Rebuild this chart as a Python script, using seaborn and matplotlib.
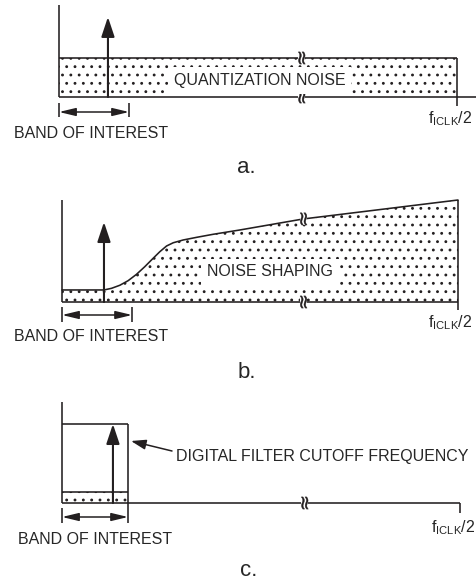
import numpy as np
import matplotlib
matplotlib.use("Agg")
import matplotlib.pyplot as plt
import seaborn as sns
from matplotlib.textpath import TextPath
from matplotlib.patches import PathPatch, Rectangle
from matplotlib.font_manager import FontProperties
from matplotlib.transforms import Affine2D, ScaledTranslation

# ---------------- data (frequency in units of fICLK/2, amplitude = fraction of axis height) -------------
a_noise_level = 0.424
a_signal_freq = 0.123
a_signal_amp = 0.87
a_band_edge = 0.176
a_axis_end = 1.048

b_shaping_freq = [0.0, 0.106, 0.125, 0.146, 0.167, 0.188, 0.209, 0.230, 0.247, 0.264,
                  0.281, 0.306, 0.340, 0.382, 0.449, 0.609, 1.0]
b_shaping_amp = [0.118, 0.118, 0.134, 0.164, 0.209, 0.271, 0.346, 0.428, 0.493, 0.549,
                 0.581, 0.608, 0.634, 0.664, 0.706, 0.814, 1.0]
b_signal_freq = 0.106
b_signal_amp = 0.784
b_band_edge = 0.177

c_filter_edge = 0.166
c_filter_gain = 0.782
c_noise_level = 0.109
c_signal_freq = 0.128
c_signal_amp = 0.782

break_freq = 0.61

band_label = "BAND OF INTEREST"
nyquist_label = r"$\mathregular{f_{ICLK}/2}$"
panel_labels = ["a.", "b.", "c."]
noise_labels = ["QUANTIZATION NOISE", "NOISE SHAPING"]
filter_label = "DIGITAL FILTER CUTOFF FREQUENCY"

# ---------------- style ----------------
sns.set_theme(style="white")
plt.rcParams["font.family"] = ["Liberation Sans", "DejaVu Sans"]
plt.rcParams["hatch.linewidth"] = 0.85
INK = "#231f20"
TXT = "#262626"
plt.rcParams["hatch.color"] = INK
LW = 1.15
FS = 11.5

W, H = 476, 581
fig = plt.figure(figsize=(W / 100, H / 100), dpi=100)
fig.patch.set_facecolor("white")
PIX = Affine2D().scale(1 / W, -1 / H).translate(0, 1) + fig.transFigure


def make_panel(px0, px1, py0, py1, top, bottom):
    ax = fig.add_axes([0, 1 - bottom / H, 1, (bottom - top) / H])
    sx, sy = px1 - px0, py0 - py1
    ax.set_xlim(-px0 / sx, (W - px0) / sx)
    ax.set_ylim((py0 - bottom) / sy, (py0 - top) / sy)
    ax.axis("off")
    X = lambda px: (px - px0) / sx
    Y = lambda py: (py0 - py) / sy
    return ax, X, Y


# break glyph (rotated "≈")
_tp = TextPath((0, 0), "\u2248", size=14, prop=FontProperties(family="DejaVu Sans"))
_e = _tp.get_extents()
GLYPH = Affine2D().translate(-(_e.x0 + _e.x1) / 2, -(_e.y0 + _e.y1) / 2).rotate_deg(90).transform_path(_tp)
_g = GLYPH.get_extents()


def draw_break(ax, x, y):
    tr = Affine2D().scale(fig.dpi / 72) + ScaledTranslation(x, y, ax.transData)
    ax.add_patch(Rectangle((_g.x0, _g.y0), _g.width, _g.height, transform=tr,
                           fc="white", ec="none", zorder=8))
    ax.add_patch(PathPatch(GLYPH, transform=tr, fc=INK, ec=INK, lw=0.3, zorder=9))


def line(ax, xs, ys, **kw):
    ax.plot(xs, ys, color=INK, lw=LW, solid_capstyle="butt", zorder=4, **kw)


def up_arrow(ax, f, amp):
    ax.annotate("", xy=(f, amp), xytext=(f, 0),
                arrowprops=dict(arrowstyle="-|>,head_length=0.6,head_width=0.2",
                                mutation_scale=20, lw=1.5, color=INK,
                                shrinkA=0, shrinkB=0), zorder=6)


def band_arrow(ax, f_end, y, ytop, ybot, right_tick=True):
    ax.annotate("", xy=(f_end, y), xytext=(0, y),
                arrowprops=dict(arrowstyle="<|-|>,head_length=0.5,head_width=0.12",
                                mutation_scale=20, lw=1.1, color=INK,
                                shrinkA=0, shrinkB=0), zorder=6)
    line(ax, [0, 0], [ytop, ybot])
    if right_tick:
        line(ax, [f_end, f_end], [ytop, ybot])


def ptext(x, y, s, ha="left", size=FS, box=False):
    kw = {}
    if box:
        kw["bbox"] = dict(boxstyle="square,pad=0.35", fc="white", ec="none")
    fig.text(x, y, s, transform=PIX, ha=ha, va="baseline", fontsize=size,
             color=TXT, zorder=10, **kw)


hatch_kw = dict(facecolor="white", edgecolor=INK, linewidth=0, hatch="..", zorder=1)

# ---------------- panel a ----------------
axa, Xa, Ya = make_panel(59, 457, 97, 5, 0, 177)
axa.fill_between([0, 1], [0, 0], [a_noise_level, a_noise_level], **hatch_kw)
line(axa, [0, 0], [0, 1])
line(axa, [0, a_axis_end], [0, 0])
line(axa, [0, 1], [a_noise_level, a_noise_level])
line(axa, [1, 1], [a_noise_level, Ya(106)])
up_arrow(axa, a_signal_freq, a_signal_amp)
band_arrow(axa, a_band_edge, Ya(112), Ya(103), Ya(117))
draw_break(axa, break_freq, a_noise_level)
draw_break(axa, break_freq, 0)
ptext(259.5, 85, noise_labels[0], ha="center", box=True)
ptext(91.5, 138, band_label, ha="center")
ptext(428, 123, nyquist_label)
ptext(237, 173, panel_labels[0], size=16)

# ---------------- panel b ----------------
axb, Xb, Yb = make_panel(62, 458, 302, 200, 177, 387)
axb.fill_between(b_shaping_freq, 0, b_shaping_amp, **hatch_kw)
sns.lineplot(x=b_shaping_freq, y=b_shaping_amp, ax=axb, color=INK, lw=LW,
             sort=False, estimator=None, zorder=4)
line(axb, [0, 0], [0, 1])
line(axb, [0, 1], [0, 0])
line(axb, [1, 1], [b_shaping_amp[-1], Yb(310)])
up_arrow(axb, b_signal_freq, b_signal_amp)
band_arrow(axb, b_band_edge, Yb(315), Yb(307), Yb(322))
draw_break(axb, break_freq, float(np.interp(break_freq, b_shaping_freq, b_shaping_amp)))
draw_break(axb, break_freq, 0)
ptext(270, 276.5, noise_labels[1], ha="center", box=True)
ptext(91, 341, band_label, ha="center")
ptext(428, 327, nyquist_label)
ptext(238, 378, panel_labels[1], size=16)

# ---------------- panel c ----------------
axc, Xc, Yc = make_panel(62, 460, 503, 402, 387, 581)
axc.fill_between([0, c_filter_edge], 0, c_noise_level, **hatch_kw)
line(axc, [0, 0], [0, 1])
line(axc, [0, 1], [0, 0])
line(axc, [1, 1], [0, Yc(513)])
line(axc, [0, c_filter_edge], [c_filter_gain, c_filter_gain])
line(axc, [c_filter_edge, c_filter_edge], [c_filter_gain, Yc(523)])
line(axc, [0, c_filter_edge], [c_noise_level, c_noise_level])
up_arrow(axc, c_signal_freq, c_signal_amp)
band_arrow(axc, c_filter_edge, Yc(517), Yc(508), Yc(523), right_tick=False)
axc.annotate("", xy=(Xc(131), Yc(441)), xytext=(Xc(172), Yc(451)),
             arrowprops=dict(arrowstyle="-|>,head_length=0.45,head_width=0.15",
                             mutation_scale=20, lw=1.1, color=INK,
                             shrinkA=0, shrinkB=0), zorder=6)
draw_break(axc, break_freq, 0)
ptext(176, 461, filter_label)
ptext(95, 544, band_label, ha="center")
ptext(431, 532, nyquist_label)
ptext(240, 576, panel_labels[2], size=16)

fig.savefig("out.png", dpi=100, facecolor="white")
